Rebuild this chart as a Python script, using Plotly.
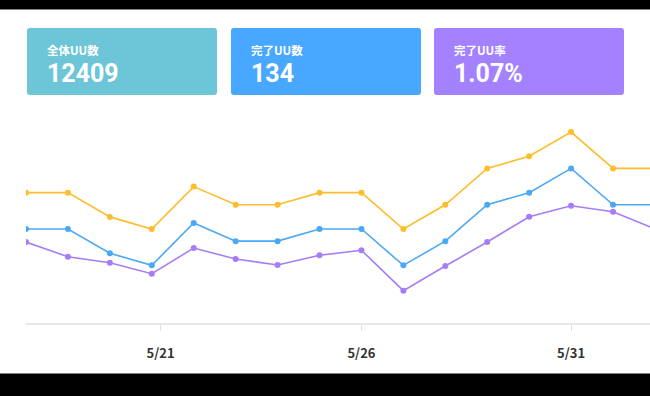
import datetime as dt
import plotly.graph_objects as go

# ---- data ----
dates = ["2023-05-18", "2023-05-19", "2023-05-20", "2023-05-21", "2023-05-22", "2023-05-23",
         "2023-05-24", "2023-05-25", "2023-05-26", "2023-05-27", "2023-05-28", "2023-05-29",
         "2023-05-30", "2023-05-31", "2023-06-01", "2023-06-02"]
series_a = [26, 26, 22, 20, 27, 24, 24, 26, 26, 20, 24, 30, 32, 36, 30, 30]
series_b = [20, 20, 16, 14, 21, 18, 18, 20, 20, 14, 18, 24, 26, 30, 24, 24]
series_c = [17.85, 15.43, 14.44, 12.62, 16.86, 15.05, 14.06, 15.66, 16.49, 9.82,
            13.90, 17.85, 22.03, 23.84, 22.85, 20.0]
tick_vals = ["2023-05-21 05:00", "2023-05-26", "2023-05-31"]
tick_text = ["5/21", "5/26", "5/31"]
card_labels = ["全体UU数", "完了UU数", "完了UU率"]
card_values = ["12409", "134", "1.07%"]

# ---- styles ----
W, H = 650, 396
L, R, T, B = 26, 650, 110, 323
line_colors = ["#FDBD2C", "#4BA8F6", "#A57DF6"]
card_colors = ["#6CC6D7", "#48A7FF", "#A482FF"]
font_jp = "Noto Sans CJK JP"


def px(x):
    return (x - L) / (R - L)


def py(y):
    return (B - y) / (B - T)


def rrect(x0, y0, x1, y1, r=3):
    rx = r / (R - L)
    ry = r / (B - T)
    X0, X1 = px(x0), px(x1)
    Y0, Y1 = py(y0), py(y1)
    return (f"M {X0+rx},{Y0} L {X1-rx},{Y0} Q {X1},{Y0} {X1},{Y0-ry} "
            f"L {X1},{Y1+ry} Q {X1},{Y1} {X1-rx},{Y1} L {X0+rx},{Y1} "
            f"Q {X0},{Y1} {X0},{Y1+ry} L {X0},{Y0-ry} Q {X0},{Y0} {X0+rx},{Y0} Z")


fig = go.Figure()
for ys, c, n in zip([series_a, series_b, series_c], line_colors, ["A", "B", "C"]):
    fig.add_trace(go.Scatter(x=dates, y=ys, mode="lines+markers", name=n,
                             line=dict(color=c, width=1.6),
                             marker=dict(color=c, size=6),
                             hoverinfo="skip"))

start = dt.datetime(2023, 5, 18)
day_px = 41.93
x_end = start + dt.timedelta(days=(R - L) / day_px)

shapes = []
shapes.append(dict(type="rect", xref="paper", yref="paper", x0=px(0), x1=px(W), y0=py(0), y1=py(9.5),
                   fillcolor="black", line=dict(width=0), layer="above"))
shapes.append(dict(type="line", xref="paper", yref="paper", x0=px(0), x1=px(W), y0=py(9.5), y1=py(9.5),
                   line=dict(color="#888888", width=1), layer="above"))
shapes.append(dict(type="rect", xref="paper", yref="paper", x0=px(0), x1=px(W), y0=py(373.5), y1=py(H),
                   fillcolor="black", line=dict(width=0), layer="above"))

annotations = []
card_x = [27, 231, 434]
for i in range(3):
    x0 = card_x[i]
    shapes.append(dict(type="path", xref="paper", yref="paper", path=rrect(x0, 28, x0 + 190, 95, 3),
                       fillcolor=card_colors[i], line=dict(width=0), layer="below"))
    txt = (f"<span style='font-size:11.5px'>{card_labels[i]}</span><br>"
           f"<span style='font-size:25px;font-family:Roboto'>{card_values[i]}</span>")
    annotations.append(dict(xref="paper", yref="paper", x=px(x0 + 17.5), y=py(40), text=txt,
                            showarrow=False, xanchor="left", yanchor="top", align="left",
                            font=dict(family=font_jp, size=21, color="white", weight="bold")))

fig.update_layout(
    width=W, height=H,
    margin=dict(l=L, r=W - R, t=T, b=H - B, pad=0),
    paper_bgcolor="white", plot_bgcolor="white",
    showlegend=False,
    shapes=shapes, annotations=annotations,
    xaxis=dict(type="date", range=[start, x_end], showgrid=False, zeroline=False,
               showline=True, linecolor="#E8E8EC", linewidth=1.5,
               tickvals=tick_vals, ticktext=tick_text, ticks="outside", ticklen=6,
               tickcolor="#E0E0E4", tickwidth=1, ticklabelstandoff=12,
               tickfont=dict(family=font_jp, size=13, color="#333333", weight="bold")),
    yaxis=dict(range=[4.49, 39.64], visible=False, showgrid=False, zeroline=False),
)

fig.write_html("out.html", config={"displayModeBar": False},
               post_script="document.body.style.margin='0';document.body.style.overflow='hidden';")
